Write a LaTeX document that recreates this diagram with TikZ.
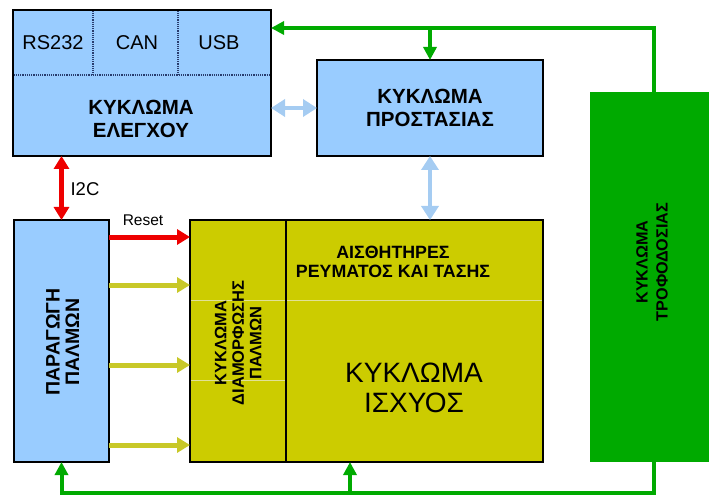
\documentclass[tikz,border=0pt]{standalone}
\usepackage{fontspec}
\setmainfont{Liberation Sans}
\usetikzlibrary{arrows.meta,calc}
\definecolor{lblue}{RGB}{153,204,255}
\definecolor{ybox}{RGB}{204,204,0}
\definecolor{gbox}{RGB}{0,170,0}
\definecolor{rred}{RGB}{238,0,0}
\definecolor{abl}{RGB}{165,204,242}
\definecolor{yarr}{RGB}{200,200,40}
\definecolor{dotc}{RGB}{40,60,110}
\definecolor{faint}{RGB}{225,225,150}
\begin{document}
\begin{tikzpicture}[x=1pt,y=-1pt,
  box/.style={draw=black, line width=1.3pt, inner sep=0pt, outer sep=0pt},
  lbl/.style={inner sep=0pt, align=center, font=\bfseries\fontsize{20.5}{23}\selectfont},
  gline/.style={draw=gbox, line width=4pt},
  garrow/.style={gline, -{Triangle[length=13pt,width=13pt]}},
  rarrow/.style={draw=rred, line width=5pt, -{Triangle[length=13pt,width=15pt]}},
  rdarrow/.style={draw=rred, line width=5pt, {Triangle[length=13pt,width=15pt]}-{Triangle[length=13pt,width=15pt]}},
  yarrow/.style={draw=yarr, line width=5pt, -{Triangle[length=13pt,width=15pt]}},
  barrow/.style={draw=abl, line width=4pt, {Triangle[length=14pt,width=17pt]}-{Triangle[length=14pt,width=17pt]}},
  dotl/.style={draw=dotc, line width=1.2pt, densely dotted},
  faintl/.style={draw=faint, line width=0.8pt}]
\useasboundingbox (0,0) rectangle (709,497);

% boxes
\node[box, fill=lblue, minimum width=258pt, minimum height=146pt] (ctrl) at (142,83) {};
\node[box, fill=lblue, minimum width=226pt, minimum height=96pt] (prot) at (430,108) {};
\node[box, fill=lblue, minimum width=95pt, minimum height=242pt] (pulse) at (61.5,341) {};
\node[box, fill=ybox, minimum width=353pt, minimum height=242pt] (ymain) at (366.5,341) {};
\node[draw=none, fill=gbox, inner sep=0pt, outer sep=0pt, minimum width=119pt, minimum height=370pt] (power) at (649.5,277) {};

% inner lines of control box
\draw[dotl] (13.6,75) -- (270.4,75);
\draw[dotl] (93,10.6) -- (93,75);
\draw[dotl] (178,10.6) -- (178,75);

% inner lines of yellow box
\draw[faintl] (190.6,300) -- (542.4,300);
\draw[faintl] (190.6,380) -- (286,380);
\draw[line width=1.3pt] (286,220) -- (286,462);

% texts
\node[inner sep=0pt, font=\fontsize{20}{23}\selectfont] (trs) at (53,43) {RS232};
\node[inner sep=0pt, font=\fontsize{20}{23}\selectfont] (tcan) at (137,43) {CAN};
\node[inner sep=0pt, font=\fontsize{20}{23}\selectfont] (tusb) at (219,43) {USB};
\node[lbl] (tctrl) at (141,119) {ΚΥΚΛΩΜΑ\\ΕΛΕΓΧΟΥ};
\node[lbl] (tprot) at (430,108) {ΚΥΚΛΩΜΑ\\ΠΡΟΣΤΑΣΙΑΣ};
\node[lbl, rotate=90, font=\bfseries\fontsize{19.5}{19.5}\selectfont] (tpulse) at (62.5,342) {ΠΑΡΑΓΩΓΗ\\ΠΑΛΜΩΝ};
\node[lbl, rotate=90, font=\bfseries\fontsize{16.5}{17.5}\selectfont] (tmod) at (238,343) {ΚΥΚΛΩΜΑ\\ΔΙΑΜΟΡΦΩΣΗΣ\\ΠΑΛΜΩΝ};
\node[lbl, font=\bfseries\fontsize{17.8}{19.5}\selectfont] (tsens) at (393,262) {ΑΙΣΘΗΤΗΡΕΣ\\ΡΕΥΜΑΤΟΣ ΚΑΙ ΤΑΣΗΣ};
\node[lbl, font=\fontsize{28}{30}\selectfont] (tpow) at (414,388) {ΚΥΚΛΩΜΑ\\ΙΣΧΥΟΣ};
\node[lbl, rotate=90, font=\bfseries\fontsize{16.2}{20}\selectfont] (tsup) at (652,262) {ΚΥΚΛΩΜΑ\\ΤΡΟΦΟΔΟΣΙΑΣ};

% green power lines
\coordinate (gt) at (654,28);
\coordinate (gb) at (654,493);
\coordinate (yb) at (350,493);
\draw[garrow] (power.north -| gt) -- (gt) -- (ctrl.east |- gt);
\draw[garrow] (prot.north |- gt) -- (prot.north);
\draw[garrow] (power.south -| gb) -- (gb) -- (pulse.south |- gb) -- (pulse.south);
\draw[garrow] (yb) -- (ymain.south -| yb);

% I2C and reset
\draw[rdarrow] (ctrl.south -| pulse.north) -- (pulse.north);
\node[inner sep=0pt, font=\fontsize{18.5}{20}\selectfont] (ti2c) at (85,189) {I2C};
\coordinate (r1) at (0,237);
\draw[rarrow] (pulse.east |- r1) -- (ymain.west |- r1);
\node[inner sep=0pt, font=\fontsize{15.5}{17}\selectfont] (treset) at (143,220) {Reset};

% pulse signals
\coordinate (p1) at (0,285);
\coordinate (p2) at (0,365);
\coordinate (p3) at (0,445);
\draw[yarrow] (pulse.east |- p1) -- (ymain.west |- p1);
\draw[yarrow] (pulse.east |- p2) -- (ymain.west |- p2);
\draw[yarrow] (pulse.east |- p3) -- (ymain.west |- p3);

% light blue links
\draw[barrow] (ctrl.east |- prot.west) -- (prot.west);
\draw[barrow] (prot.south) -- (ymain.north -| prot.south);
\end{tikzpicture}
\end{document}
